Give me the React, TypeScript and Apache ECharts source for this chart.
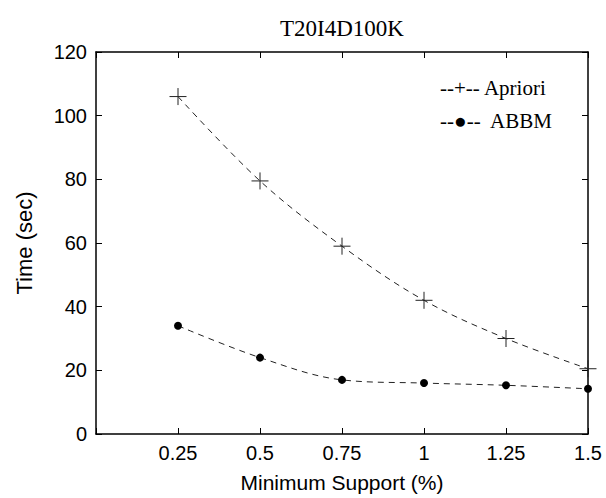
import React, { useEffect, useRef } from "react";
import * as echarts from "echarts";

const supports = [0.25, 0.5, 0.75, 1, 1.25, 1.5];
const aprioriTimes = [106, 79.5, 59, 42, 30, 20.5];
const abbmTimes = [34, 24, 17, 16, 15.3, 14.2];
const xTickLabels: Record<string, string> = {
  "0.25": "0.25",
  "0.5": "0.5",
  "0.75": "0.75",
  "1": "1",
  "1.25": "1.25",
  "1.5": "1.5",
};

const sans = "Liberation Sans, Arial, sans-serif";
const serif = "Liberation Serif, Times New Roman, serif";

export default function App() {
  const ref = useRef<HTMLDivElement>(null);
  useEffect(() => {
    if (!ref.current) return;
    const chart = echarts.init(ref.current, undefined, { renderer: "svg" });
    const axisLine = { show: true, onZero: false, lineStyle: { color: "#000", width: 1.5 } };
    const tick = { show: true, inside: true, length: 6, lineStyle: { color: "#000", width: 1 } };
    chart.setOption({
      animation: false,
      backgroundColor: "#fff",
      title: {
        text: "T20I4D100K",
        left: 275,
        top: 12,
        textStyle: { fontFamily: serif, fontSize: 23, fontWeight: "normal", color: "#000" },
      },
      legend: {
        orient: "vertical",
        left: 430,
        top: 72,
        itemGap: 12,
        icon: "none",
        itemWidth: 0,
        itemHeight: 0,
        data: ["Apriori", "ABBM"],
        formatter: (name: string) => (name === "Apriori" ? "--+-- Apriori" : "--\u25CF--  ABBM"),
        textStyle: { fontFamily: serif, fontSize: 21, color: "#000" },
      },
      grid: { left: 96, right: 18, top: 52, bottom: 60, containLabel: false },
      xAxis: [
        {
          type: "value",
          position: "bottom",
          min: 0,
          max: 1.5,
          interval: 0.25,
          name: "Minimum Support (%)",
          nameLocation: "middle",
          nameGap: 38,
          nameTextStyle: { fontFamily: sans, fontSize: 21, color: "#000" },
          axisLine,
          axisTick: tick,
          splitLine: { show: false },
          axisLabel: {
            fontFamily: sans,
            fontSize: 20,
            color: "#000",
            margin: 9,
            formatter: (v: number) => xTickLabels[String(v)] ?? "",
          },
        },
        {
          type: "value",
          position: "top",
          min: 0,
          max: 1.5,
          interval: 0.25,
          axisLine,
          axisTick: tick,
          axisLabel: { show: false },
          splitLine: { show: false },
        },
      ],
      yAxis: [
        {
          type: "value",
          position: "left",
          min: 0,
          max: 120,
          interval: 20,
          name: "Time (sec)",
          nameLocation: "middle",
          nameGap: 61,
          nameTextStyle: { fontFamily: sans, fontSize: 22, color: "#000" },
          axisLine,
          axisTick: tick,
          splitLine: { show: false },
          axisLabel: { fontFamily: sans, fontSize: 20, color: "#000", margin: 9 },
        },
        {
          type: "value",
          position: "right",
          min: 0,
          max: 120,
          interval: 20,
          axisLine,
          axisTick: tick,
          axisLabel: { show: false },
          splitLine: { show: false },
        },
      ],
      series: [
        {
          name: "Apriori",
          type: "line",
          smooth: 0.35,
          data: supports.map((s, i) => [s, aprioriTimes[i]]),
          lineStyle: { color: "#222", width: 1, type: [6, 5] },
          symbol: "path://M0,5L10,5M5,0L5,10",
          symbolSize: 17,
          itemStyle: { color: "none", borderColor: "#222", borderWidth: 1 },
          clip: false,
        },
        {
          name: "ABBM",
          type: "line",
          smooth: 0.35,
          data: supports.map((s, i) => [s, abbmTimes[i]]),
          lineStyle: { color: "#222", width: 1, type: [6, 5] },
          symbol: "circle",
          symbolSize: 8,
          itemStyle: { color: "#000", borderColor: "#000", borderWidth: 0 },
          clip: false,
        },
      ],
    });
    return () => chart.dispose();
  }, []);
  return (
    <div
      ref={ref}
      style={{ position: "absolute", left: 0, top: 0, width: 606, height: 498 }}
    />
  );
}
